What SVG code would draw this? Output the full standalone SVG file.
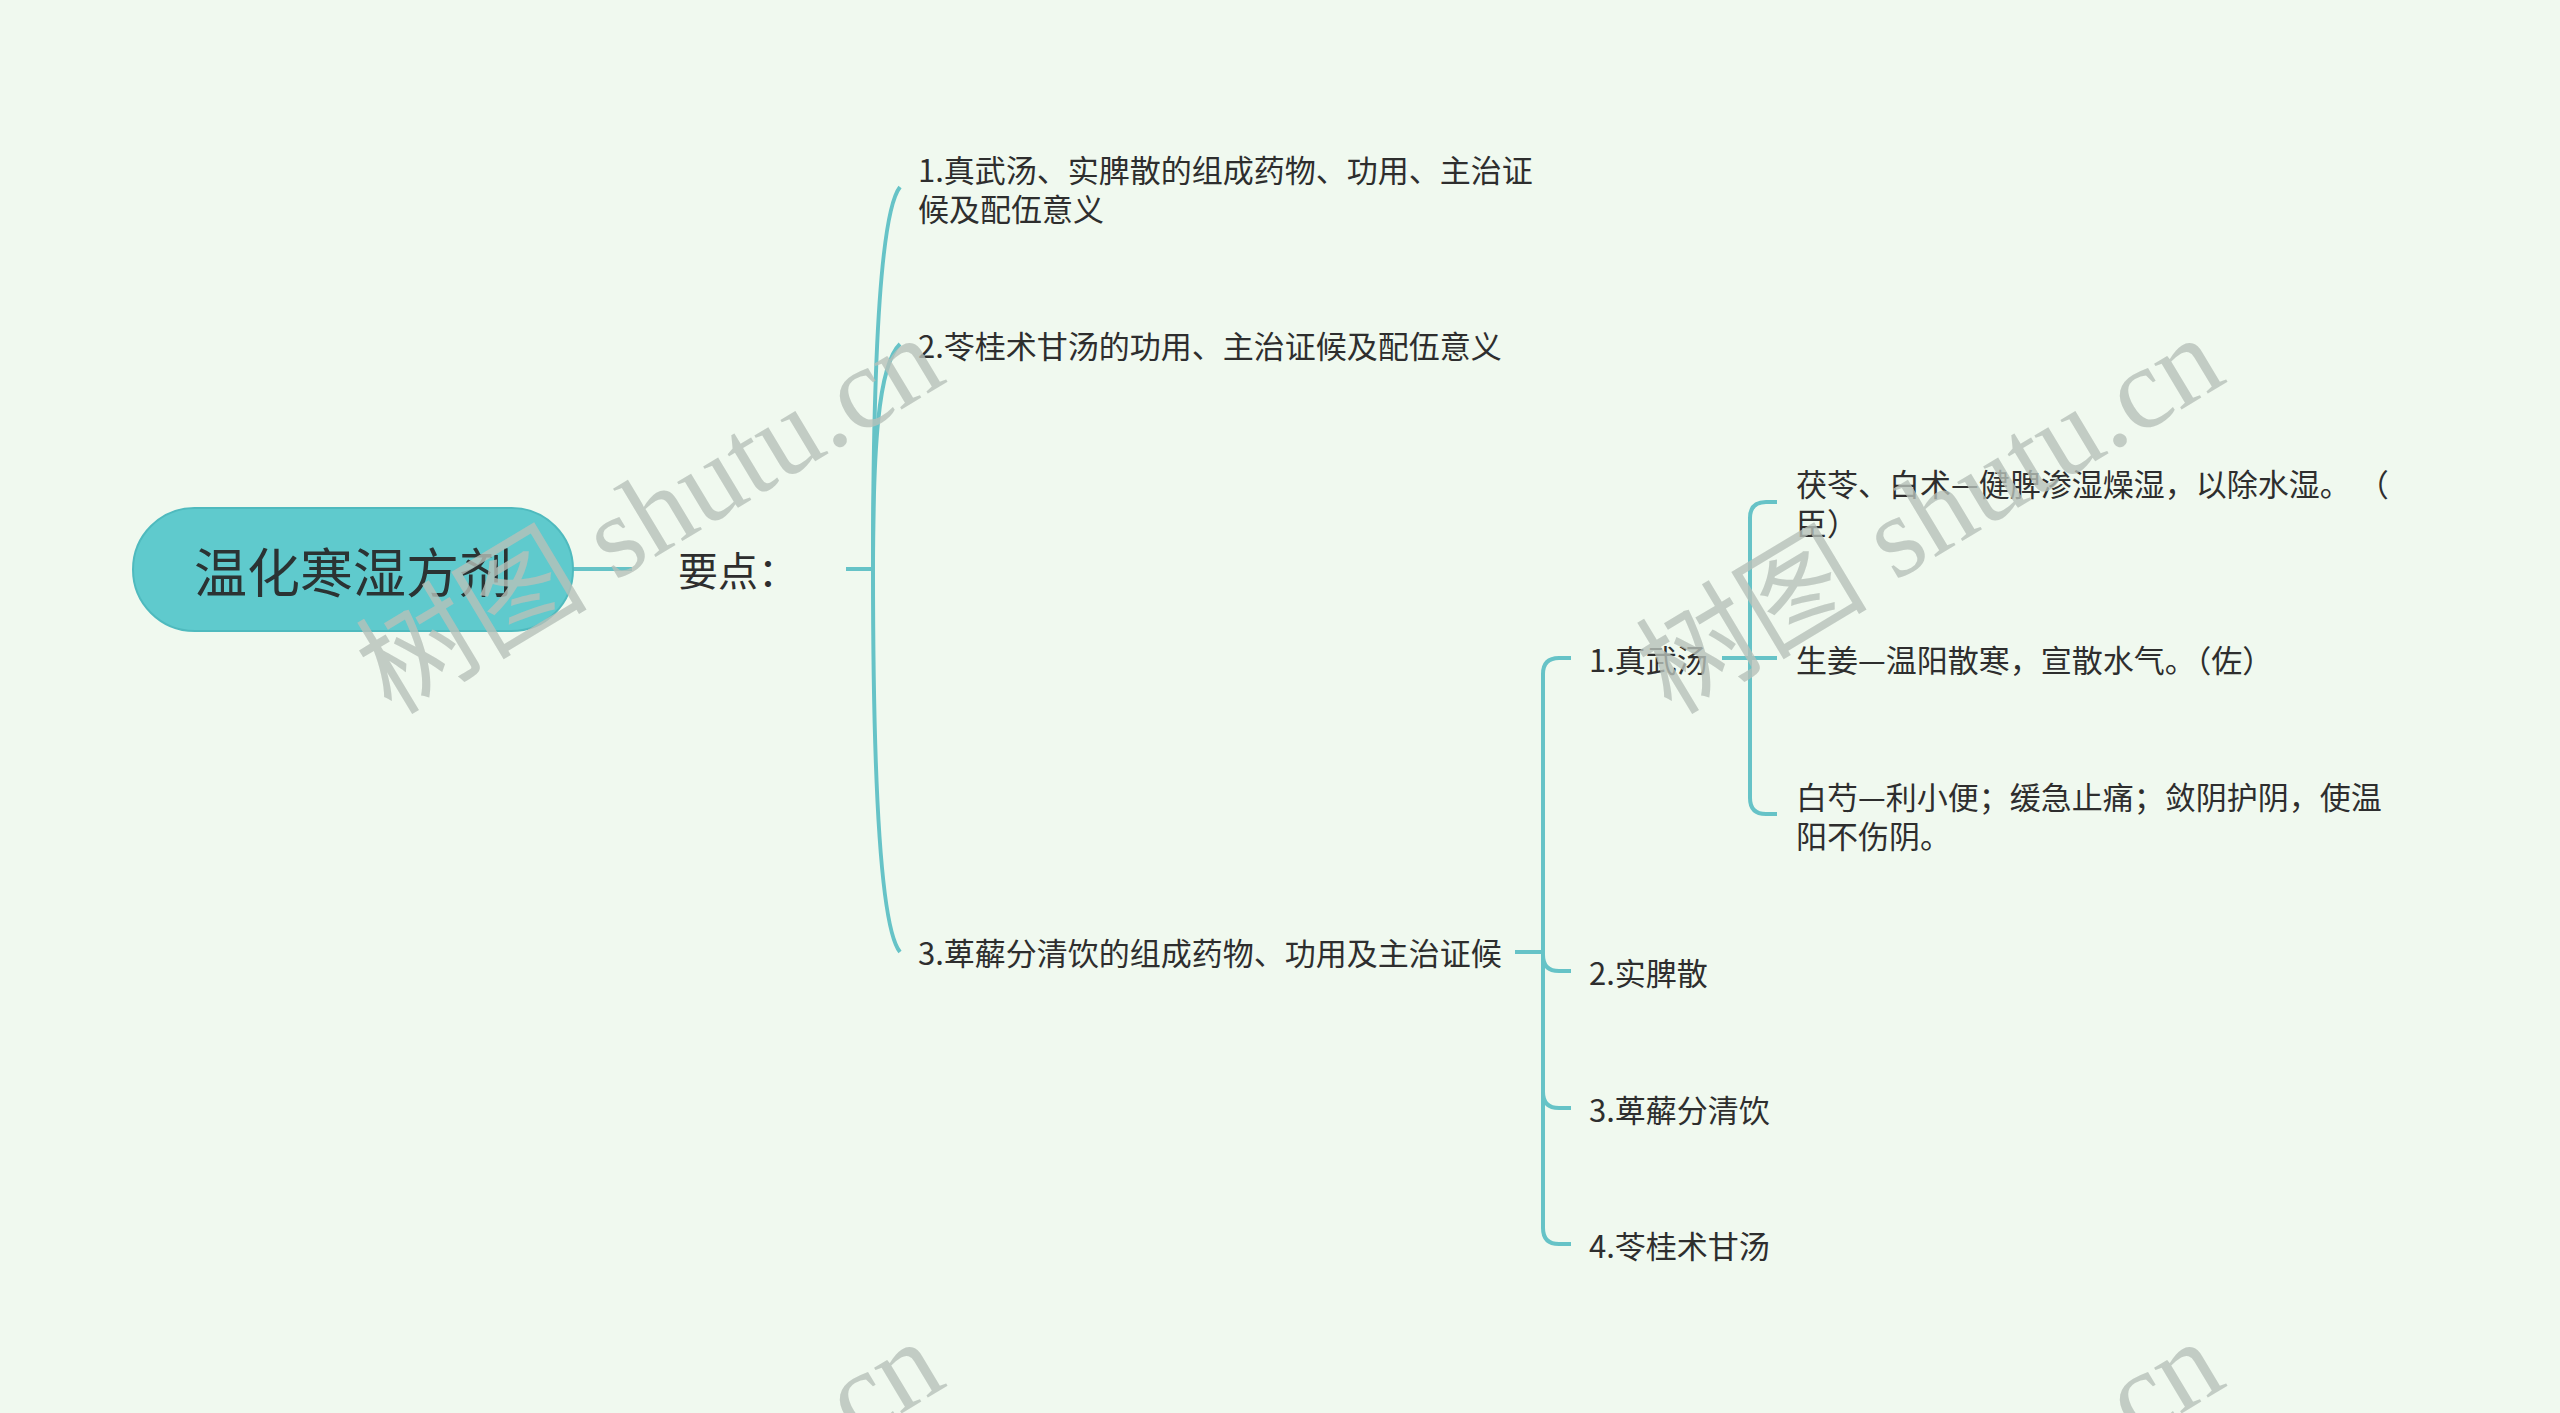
<svg xmlns="http://www.w3.org/2000/svg" width="2560" height="1413" viewBox="0 0 2560 1413">
<style>
.bg{fill:#f0f9ef}
.ln{fill:none;stroke:#66c3c7;stroke-width:4;stroke-linecap:butt}
.t{font-family:"Noto Sans CJK SC","Noto Sans",sans-serif;font-size:31px;fill:#2e2e2e;dominant-baseline:central}
.pt{font-family:"Noto Sans CJK SC","Noto Sans",sans-serif;font-size:40px;fill:#2e2e2e;dominant-baseline:central}
.root{fill:#5fcacd;stroke:#4fbabe;stroke-width:2}
.rt{font-family:"Noto Sans CJK SC","Noto Sans",sans-serif;font-size:53px;fill:#2b3333;dominant-baseline:central;text-anchor:middle}
.wm{font-family:"Liberation Serif","Noto Sans CJK SC",serif;font-size:116px;fill:#b7c0b9;fill-opacity:0.8}
</style>
<rect class="bg" x="0" y="0" width="2560" height="1413"/>
<g id="connectors">
  <path class="ln" d="M573,569 L632,569"/>
  <path class="ln" d="M846,569 L873,569"/>
  <path class="ln" d="M873,569 C873,400 878,215 900,187"/>
  <path class="ln" d="M873,569 C873,450 878,365 900,344"/>
  <path class="ln" d="M873,569 C873,750 878,925 900,952"/>
  <path class="ln" d="M1515,952 L1543,952"/>
  <path class="ln" d="M1571,658 L1559,658 Q1543,658 1543,674 L1543,1228 Q1543,1244 1559,1244 L1571,1244"/>
  <path class="ln" d="M1543,955 Q1543,971 1559,971 L1571,971"/>
  <path class="ln" d="M1543,1092 Q1543,1108 1559,1108 L1571,1108"/>
  <path class="ln" d="M1722,658 L1777,658"/>
  <path class="ln" d="M1777,502 L1766,502 Q1750,502 1750,518 L1750,798 Q1750,814 1766,814 L1777,814"/>
</g>
<g id="n-root">
  <rect class="root" x="133" y="508" width="440" height="123" rx="61.5"/>
  <text class="rt" x="353" y="570">温化寒湿方剂</text>
</g>
<g id="n-yaodian">
  <text class="pt" x="678" y="569">要点：</text>
</g>
<g id="n-c1">
  <text class="t" x="918" y="168">1.真武汤、实脾散的组成药物、功用、主治证<tspan x="918" dy="39">候及配伍意义</tspan></text>
</g>
<g id="n-c2">
  <text class="t" x="918" y="344">2.苓桂术甘汤的功用、主治证候及配伍意义</text>
</g>
<g id="n-c3">
  <text class="t" x="918" y="951">3.萆薢分清饮的组成药物、功用及主治证候</text>
</g>
<g id="n-g1">
  <text class="t" x="1589" y="658">1.真武汤</text>
</g>
<g id="n-g2">
  <text class="t" x="1589" y="971">2.实脾散</text>
</g>
<g id="n-g3">
  <text class="t" x="1589" y="1108">3.萆薢分清饮</text>
</g>
<g id="n-g4">
  <text class="t" x="1589" y="1244">4.苓桂术甘汤</text>
</g>
<g id="n-h1">
  <text class="t" x="1796" y="482">茯苓、白术—健脾渗湿燥湿，以除水湿。 （<tspan x="1796" dy="39">臣）</tspan></text>
</g>
<g id="n-h2">
  <text class="t" x="1796" y="658">生姜—温阳散寒，宣散水气。（佐）</text>
</g>
<g id="n-h3">
  <text class="t" x="1796" y="795">白芍—利小便；缓急止痛；敛阴护阴，使温<tspan x="1796" dy="39">阳不伤阴。</tspan></text>
</g>
<g id="watermarks">
  <text class="wm" transform="translate(650,515) rotate(-31)" text-anchor="middle" dominant-baseline="central">树图 shutu.cn</text>
  <text class="wm" transform="translate(1930,515) rotate(-31)" text-anchor="middle" dominant-baseline="central">树图 shutu.cn</text>
  <text class="wm" transform="translate(650,1519) rotate(-31)" text-anchor="middle" dominant-baseline="central">树图 shutu.cn</text>
  <text class="wm" transform="translate(1930,1519) rotate(-31)" text-anchor="middle" dominant-baseline="central">树图 shutu.cn</text>
</g>
</svg>
